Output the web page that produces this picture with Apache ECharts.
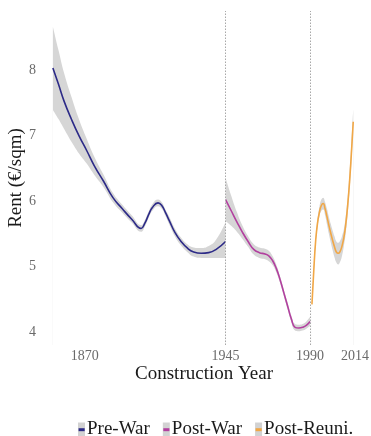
<!DOCTYPE html>
<html>
<head>
<meta charset="utf-8">
<script src="https://cdn.jsdelivr.net/npm/echarts@6/dist/echarts.min.js"></script>
<style>
  html, body { margin: 0; padding: 0; background: #fff; }
  #chart { width: 371px; height: 436px; }
</style>
</head>
<body>
<div id="chart"></div>
<script>
// Smoothed rent by construction year, with confidence bands (low / high)
const preWarYears = [1853, 1856, 1859, 1863, 1867, 1871, 1875, 1880, 1885, 1890, 1895, 1900, 1902, 1904, 1906, 1909, 1911, 1913, 1915, 1918, 1921, 1925, 1928, 1932, 1936, 1940, 1945];
const preWarRent  = [8.03, 7.78, 7.52, 7.24, 6.99, 6.77, 6.54, 6.30, 6.05, 5.88, 5.72, 5.58, 5.66, 5.79, 5.90, 5.97, 5.93, 5.82, 5.70, 5.52, 5.39, 5.27, 5.22, 5.20, 5.21, 5.26, 5.38];
const preWarLow   = [7.39, 7.25, 7.10, 6.90, 6.72, 6.57, 6.40, 6.21, 5.98, 5.82, 5.67, 5.53, 5.61, 5.74, 5.85, 5.92, 5.88, 5.77, 5.64, 5.46, 5.33, 5.21, 5.15, 5.13, 5.13, 5.13, 5.13];
const preWarHigh  = [8.66, 8.30, 7.95, 7.58, 7.24, 6.95, 6.68, 6.40, 6.12, 5.94, 5.78, 5.63, 5.71, 5.84, 5.95, 6.02, 5.98, 5.87, 5.76, 5.58, 5.45, 5.33, 5.29, 5.28, 5.31, 5.41, 5.68];

const postWarYears = [1945, 1948, 1951, 1954, 1957, 1960, 1963, 1966, 1968, 1970, 1972, 1974, 1976, 1978, 1980, 1982, 1984, 1986, 1988, 1990];
const postWarRent  = [6.02, 5.85, 5.68, 5.52, 5.38, 5.26, 5.21, 5.19, 5.16, 5.09, 4.97, 4.80, 4.60, 4.40, 4.20, 4.07, 4.06, 4.07, 4.10, 4.16];
const postWarLow   = [5.69, 5.62, 5.53, 5.42, 5.30, 5.18, 5.13, 5.11, 5.08, 5.02, 4.91, 4.75, 4.55, 4.35, 4.15, 4.02, 4.01, 4.02, 4.05, 4.09];
const postWarHigh  = [6.35, 6.08, 5.83, 5.62, 5.46, 5.34, 5.29, 5.27, 5.24, 5.16, 5.03, 4.85, 4.65, 4.45, 4.25, 4.12, 4.11, 4.12, 4.16, 4.23];

const postReuniYears = [1991, 1992, 1993, 1994, 1995, 1996, 1997, 1998, 1999, 2000, 2001, 2002, 2003, 2004, 2005, 2006, 2007, 2008, 2009, 2010, 2011, 2012, 2013];
const postReuniRent  = [4.42, 4.95, 5.40, 5.67, 5.83, 5.93, 5.96, 5.88, 5.76, 5.63, 5.51, 5.40, 5.30, 5.22, 5.20, 5.23, 5.31, 5.44, 5.64, 5.92, 6.28, 6.72, 7.21];
const postReuniLow   = [4.38, 4.90, 5.34, 5.60, 5.76, 5.85, 5.87, 5.78, 5.64, 5.50, 5.37, 5.25, 5.14, 5.06, 5.03, 5.07, 5.16, 5.31, 5.51, 5.79, 6.14, 6.56, 7.03];
const postReuniHigh  = [4.47, 5.01, 5.46, 5.73, 5.91, 6.02, 6.05, 5.98, 5.88, 5.76, 5.65, 5.55, 5.46, 5.38, 5.36, 5.39, 5.46, 5.57, 5.77, 6.05, 6.42, 6.88, 7.40];

const periodNames = ['Pre-War', 'Post-War', 'Post-Reuni.'];
const periodColors = ['#2c2a87', '#b2409f', '#f1a746'];
const xTickValues = [1870, 1945, 1990, 2014];
const yTickValues = [4, 5, 6, 7, 8];
const breakYears = [1945, 1990];

const periods = [
  { years: preWarYears, rent: preWarRent, low: preWarLow, high: preWarHigh },
  { years: postWarYears, rent: postWarRent, low: postWarLow, high: postWarHigh },
  { years: postReuniYears, rent: postReuniRent, low: postReuniLow, high: postReuniHigh }
];

const pairs = (xs, ys) => xs.map((x, i) => [x, ys[i]]);
const serif = 'Liberation Serif';
const bandGray = '#d6d6d6';

const series = [];
periods.forEach((p, i) => {
  // upper bound filled gray down to the axis
  series.push({
    type: 'line', name: 'bandHigh' + i, data: pairs(p.years, p.high),
    smooth: 0.5, showSymbol: false, symbol: 'none', z: 1, silent: true,
    lineStyle: { width: 0, opacity: 0 },
    areaStyle: { color: bandGray, opacity: 1, origin: 'start' }
  });
  // lower bound cleared with the background colour
  series.push({
    type: 'line', name: 'bandLow' + i, data: pairs(p.years, p.low),
    smooth: 0.5, showSymbol: false, symbol: 'none', z: 2, silent: true,
    lineStyle: { width: 0, opacity: 0 },
    areaStyle: { color: '#ffffff', opacity: 1, origin: 'start' }
  });
});
periods.forEach((p, i) => {
  const s = {
    type: 'line', name: periodNames[i], data: pairs(p.years, p.rent),
    smooth: 0.5, showSymbol: false, symbol: 'none', z: 4,
    color: periodColors[i],
    lineStyle: { color: periodColors[i], width: 1.6 }
  };
  if (i === 0) {
    s.markLine = {
      silent: true, symbol: 'none', label: { show: false },
      lineStyle: { color: '#a8a8a8', type: [1.5, 1.5], width: 1 },
      data: breakYears.map(y => ({ xAxis: y }))
    };
  }
  series.push(s);
});

const richStyles = {
  t: { fontFamily: serif, fontSize: 19, color: '#1a1a1a', padding: [0, 0, 0, 2] }
};
periodColors.forEach((c, i) => {
  richStyles['k' + i] = {
    backgroundColor: '#d2d2d2', color: c, width: 7, height: 14, align: 'center',
    fontFamily: 'DejaVu Sans', fontSize: 8, fontWeight: 'bold'
  };
});

const chart = echarts.init(document.getElementById('chart'), null, { renderer: 'canvas' });
chart.setOption({
  animation: false,
  backgroundColor: '#ffffff',
  grid: { left: 51, right: 14, top: 11, bottom: 91, containLabel: false, outerBoundsMode: 'none' },
  xAxis: {
    type: 'value', min: 1852, max: 2015,
    name: 'Construction Year', nameLocation: 'middle', nameGap: 20, nameMoveOverlap: false,
    nameTextStyle: { fontFamily: serif, fontSize: 19, color: '#1a1a1a' },
    axisLine: { show: false }, axisTick: { show: false }, splitLine: { show: false },
    axisLabel: { customValues: xTickValues, formatter: v => String(v), fontFamily: serif, fontSize: 14, color: '#6a6a6a', margin: 4 }
  },
  yAxis: {
    type: 'value', min: 3.8, max: 8.9,
    name: 'Rent (€/sqm)', nameLocation: 'middle', nameGap: 25, nameRotate: 90, nameMoveOverlap: false,
    nameTextStyle: { fontFamily: serif, fontSize: 19, color: '#1a1a1a' },
    axisLine: { show: false }, axisTick: { show: false }, splitLine: { show: false },
    axisLabel: { customValues: yTickValues, formatter: v => String(v), fontFamily: serif, fontSize: 14, color: '#6a6a6a', margin: 15 }
  },
  legend: {
    data: periodNames, left: 68, top: 415, icon: 'none', itemWidth: 0, itemHeight: 14, itemGap: 8,
    selectedMode: false,
    formatter: name => '{k' + periodNames.indexOf(name) + '|▬}{t|' + name + '}',
    textStyle: { rich: richStyles }
  },
  series: series
});
</script>
</body>
</html>
